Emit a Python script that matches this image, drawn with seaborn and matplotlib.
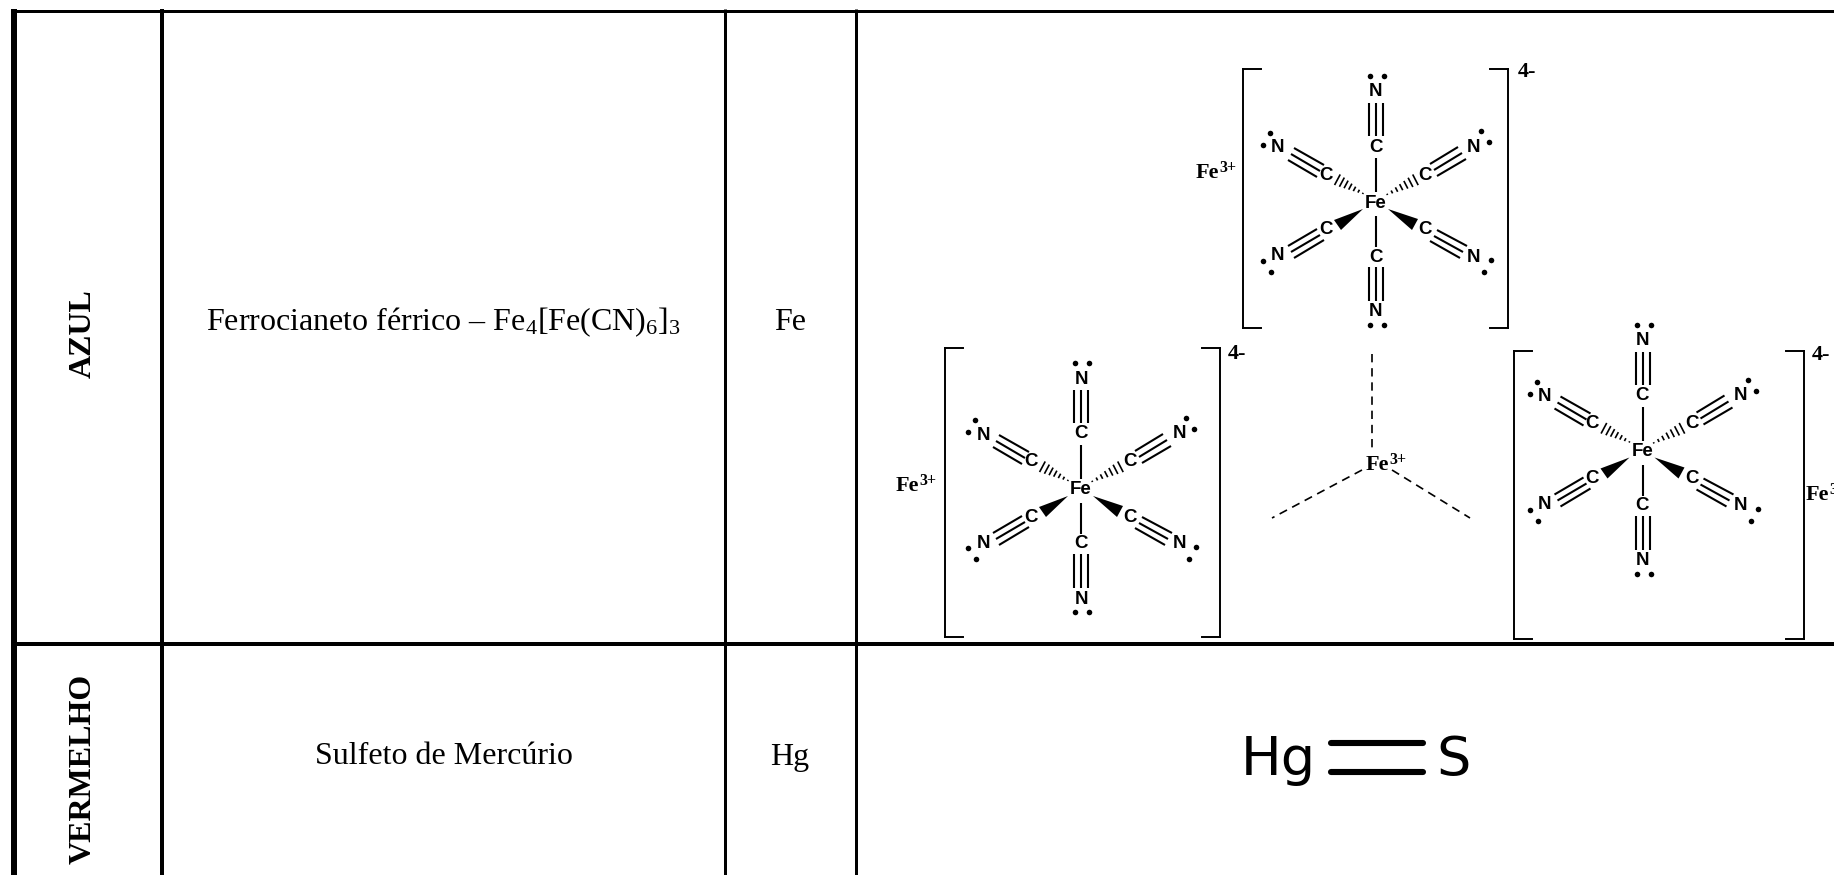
import numpy as np
import pandas as pd
import matplotlib
matplotlib.use('Agg')
import matplotlib.pyplot as plt
import seaborn as sns

# table text
color_names = ['AZUL', 'VERMELHO']
pigment_names = ['Ferrocianeto férrico – Fe$_4$[Fe(CN)$_6$]$_3$', 'Sulfeto de Mercúrio']
elements = ['Fe', 'Hg']

# table rules, in image pixels
column_lines = [14, 162, 724.8, 855.8]
column_widths = [6, 4, 3, 3]
row_lines = [10.5, 644.2]
row_widths = [3, 4]
row_text_y = [322.5, 756]
element_y = [322, 757]

# ferrocyanide centres and brackets
complex_centres = [(1376, 203), (1081, 490), (1642.5, 451.5)]
bracket_left = [1243, 945, 1513.5]
bracket_right = [1508, 1220, 1803.5]
bracket_top = [69, 348, 351]
bracket_bottom = [328, 637, 639]
charge_pos = [(1518, 72), (1228, 354), (1812, 355)]
counter_ion_pos = [(1196, 173), (896, 486), (1806, 495)]

# atoms relative to the Fe centre
carbon_pos = [(0, -56), (0, 54), (-50, -28), (49, -28), (-50, 27), (49, 27)]
nitrogen_pos = [(0, -111), (0, 109), (-98, -55), (98, -56), (-98, 53), (98, 54)]
lone_pairs = [(-6, -127), (8, -127), (-6, 122), (8, 122),
              (-106, -70), (-113, -58), (105, -72), (113, -61),
              (-113, 58), (-105, 69), (115, 57), (108, 69)]

# bonds relative to the Fe centre: x0, y0, x1, y1
single_bonds = [(0, -45, 0, -11), (0, 13, 0, 44)]
triple_bonds = [
    (-7, -100, -7, -67), (0, -100, 0, -67), (7, -100, 7, -67),
    (-7, 64, -7, 98), (0, 64, 0, 98), (7, 64, 7, 98),
    (-82, -55, -52, -38), (-85, -49, -56, -32), (-88, -43, -59, -26),
    (82, -56, 54, -39), (86, -50, 58, -33), (90, -44, 61, -27),
    (-59, 26, -88, 43), (-56, 32, -85, 49), (-52, 37, -82, 55),
    (61, 27, 91, 43), (58, 33, 87, 49), (54, 38, 84, 55),
]
wedge_bonds = [
    [(-13, 6), (-42, 17), (-35, 27)],
    [(12, 6), (42, 16), (36, 27)],
]
hash_bonds = [(-12, -9, -40, -24), (10, -8, 41, -24)]
hash_steps = [0.04, 0.19, 0.34, 0.49, 0.64, 0.79, 0.95]
hash_half = [0.7, 1.6, 2.5, 3.4, 4.3, 5.2, 6.0]

# central Fe3+ and its dashed bonds
iron_label = (1366, 465)
dashed_bonds = [(1372, 354, 1372, 452), (1362, 470, 1272, 518), (1392, 470, 1470, 518)]

# Hg=S drawing
hgs_double = [(1331, 743, 1423, 743), (1331, 772, 1423, 772)]

sns.set_theme(style='white')
plt.rcParams['font.family'] = ['Liberation Serif', 'DejaVu Serif']
plt.rcParams['mathtext.fontset'] = 'custom'
plt.rcParams['mathtext.rm'] = 'Liberation Serif'
plt.rcParams['mathtext.default'] = 'regular'

fig = plt.figure(figsize=(18.34, 8.75), dpi=100)
ax = fig.add_axes([0, 0, 1, 1])


def draw_segments(segments, lw, cap='butt', **kw):
    for x0, y0, x1, y1 in segments:
        ax.plot([x0, x1], [y0, y1], color='black', lw=lw, solid_capstyle=cap,
                dash_capstyle='butt', **kw)


def fe_plus(x, y):
    ax.text(x, y, 'Fe', ha='left', va='center', fontsize=16, fontweight='bold', color='black')
    ax.text(x + 23, y - 5, '3+', ha='left', va='center', fontsize=11.5, fontweight='bold', color='black')


# table rules, drawn through seaborn from a long table
rules = []
for i, (x, w) in enumerate(zip(column_lines, column_widths)):
    rules.append({'rule': f'c{i}', 'x': x, 'y': 9, 'w': w})
    rules.append({'rule': f'c{i}', 'x': x, 'y': 875, 'w': w})
for i, (y, w) in enumerate(zip(row_lines, row_widths)):
    rules.append({'rule': f'r{i}', 'x': 11, 'y': y, 'w': w})
    rules.append({'rule': f'r{i}', 'x': 1834, 'y': y, 'w': w})
rules = pd.DataFrame(rules)
for _, one in rules.groupby('rule'):
    sns.lineplot(data=one, x='x', y='y', estimator=None, sort=False, color='black',
                 lw=one['w'].iloc[0] * 0.72, solid_capstyle='butt', ax=ax, legend=False)

# table text
for name, y in zip(color_names, [334, 769]):
    ax.text(83.5, y, name, rotation=90, ha='center', va='center', fontsize=23,
            fontweight='bold', color='black')
for name, el, y, ey in zip(pigment_names, elements, row_text_y, element_y):
    ax.text(443.5, y, name, ha='center', va='center', fontsize=23, color='black')
    ax.text(790, ey, el, ha='center', va='center', fontsize=23, color='black')

# the three complexes
bond_segments = []
bracket_segments = []
hash_segments = []
dot_x, dot_y = [], []
for k, (cx, cy) in enumerate(complex_centres):
    for x0, y0, x1, y1 in single_bonds + triple_bonds:
        bond_segments.append((cx + x0, cy + y0, cx + x1, cy + y1))
    for dx, dy in lone_pairs:
        dot_x.append(cx + dx)
        dot_y.append(cy + dy)
    for (x, y), txt in zip(carbon_pos + nitrogen_pos, ['C'] * 6 + ['N'] * 6):
        ax.text(cx + x, cy + y, txt, ha='center', va='center', fontsize=13.5,
                family='Liberation Sans', fontweight='bold', color='black')
    ax.text(cx, cy, 'Fe', ha='center', va='center', fontsize=13.5,
            family='Liberation Sans', fontweight='bold', color='black')
    for tri in wedge_bonds:
        ax.fill([cx + p[0] for p in tri], [cy + p[1] for p in tri], color='black', lw=0)
    for x0, y0, x1, y1 in hash_bonds:
        d = np.array([x1 - x0, y1 - y0], dtype=float)
        n = np.array([-d[1], d[0]]) / np.hypot(*d)
        for t, h in zip(hash_steps, hash_half):
            px, py = cx + x0 + d[0] * t, cy + y0 + d[1] * t
            hash_segments.append((px - n[0] * h, py - n[1] * h, px + n[0] * h, py + n[1] * h))
    l, r, t, b = bracket_left[k], bracket_right[k], bracket_top[k], bracket_bottom[k]
    bracket_segments += [(l + 18, t, l, t), (l, t, l, b), (l, b, l + 18, b),
                         (r - 18, t, r, t), (r, t, r, b), (r, b, r - 18, b)]
    ax.text(charge_pos[k][0], charge_pos[k][1], '4-', ha='left', va='center', fontsize=16,
            fontweight='bold', color='black')
    fe_plus(counter_ion_pos[k][0], counter_ion_pos[k][1])

draw_segments(bond_segments, 1.5)
draw_segments(hash_segments, 1.2)
draw_segments(bracket_segments, 1.4, cap='projecting')
sns.scatterplot(x=dot_x, y=dot_y, s=16, color='black', linewidth=0, ax=ax, legend=False)

# central Fe3+
fe_plus(iron_label[0], iron_label[1])
draw_segments(dashed_bonds, 1.2, ls=(0, (5, 3.5)))

# Hg=S
ax.text(1241, 775, 'Hg', ha='left', va='baseline', fontsize=39, family='DejaVu Sans', color='black')
ax.text(1436, 775, 'S', ha='left', va='baseline', fontsize=39, family='DejaVu Sans', color='black')
draw_segments(hgs_double, 4.4, cap='round')

ax.set_xlim(0, 1834)
ax.set_ylim(875, 0)
ax.axis('off')

fig.savefig('out.png', dpi=100, facecolor='white')
